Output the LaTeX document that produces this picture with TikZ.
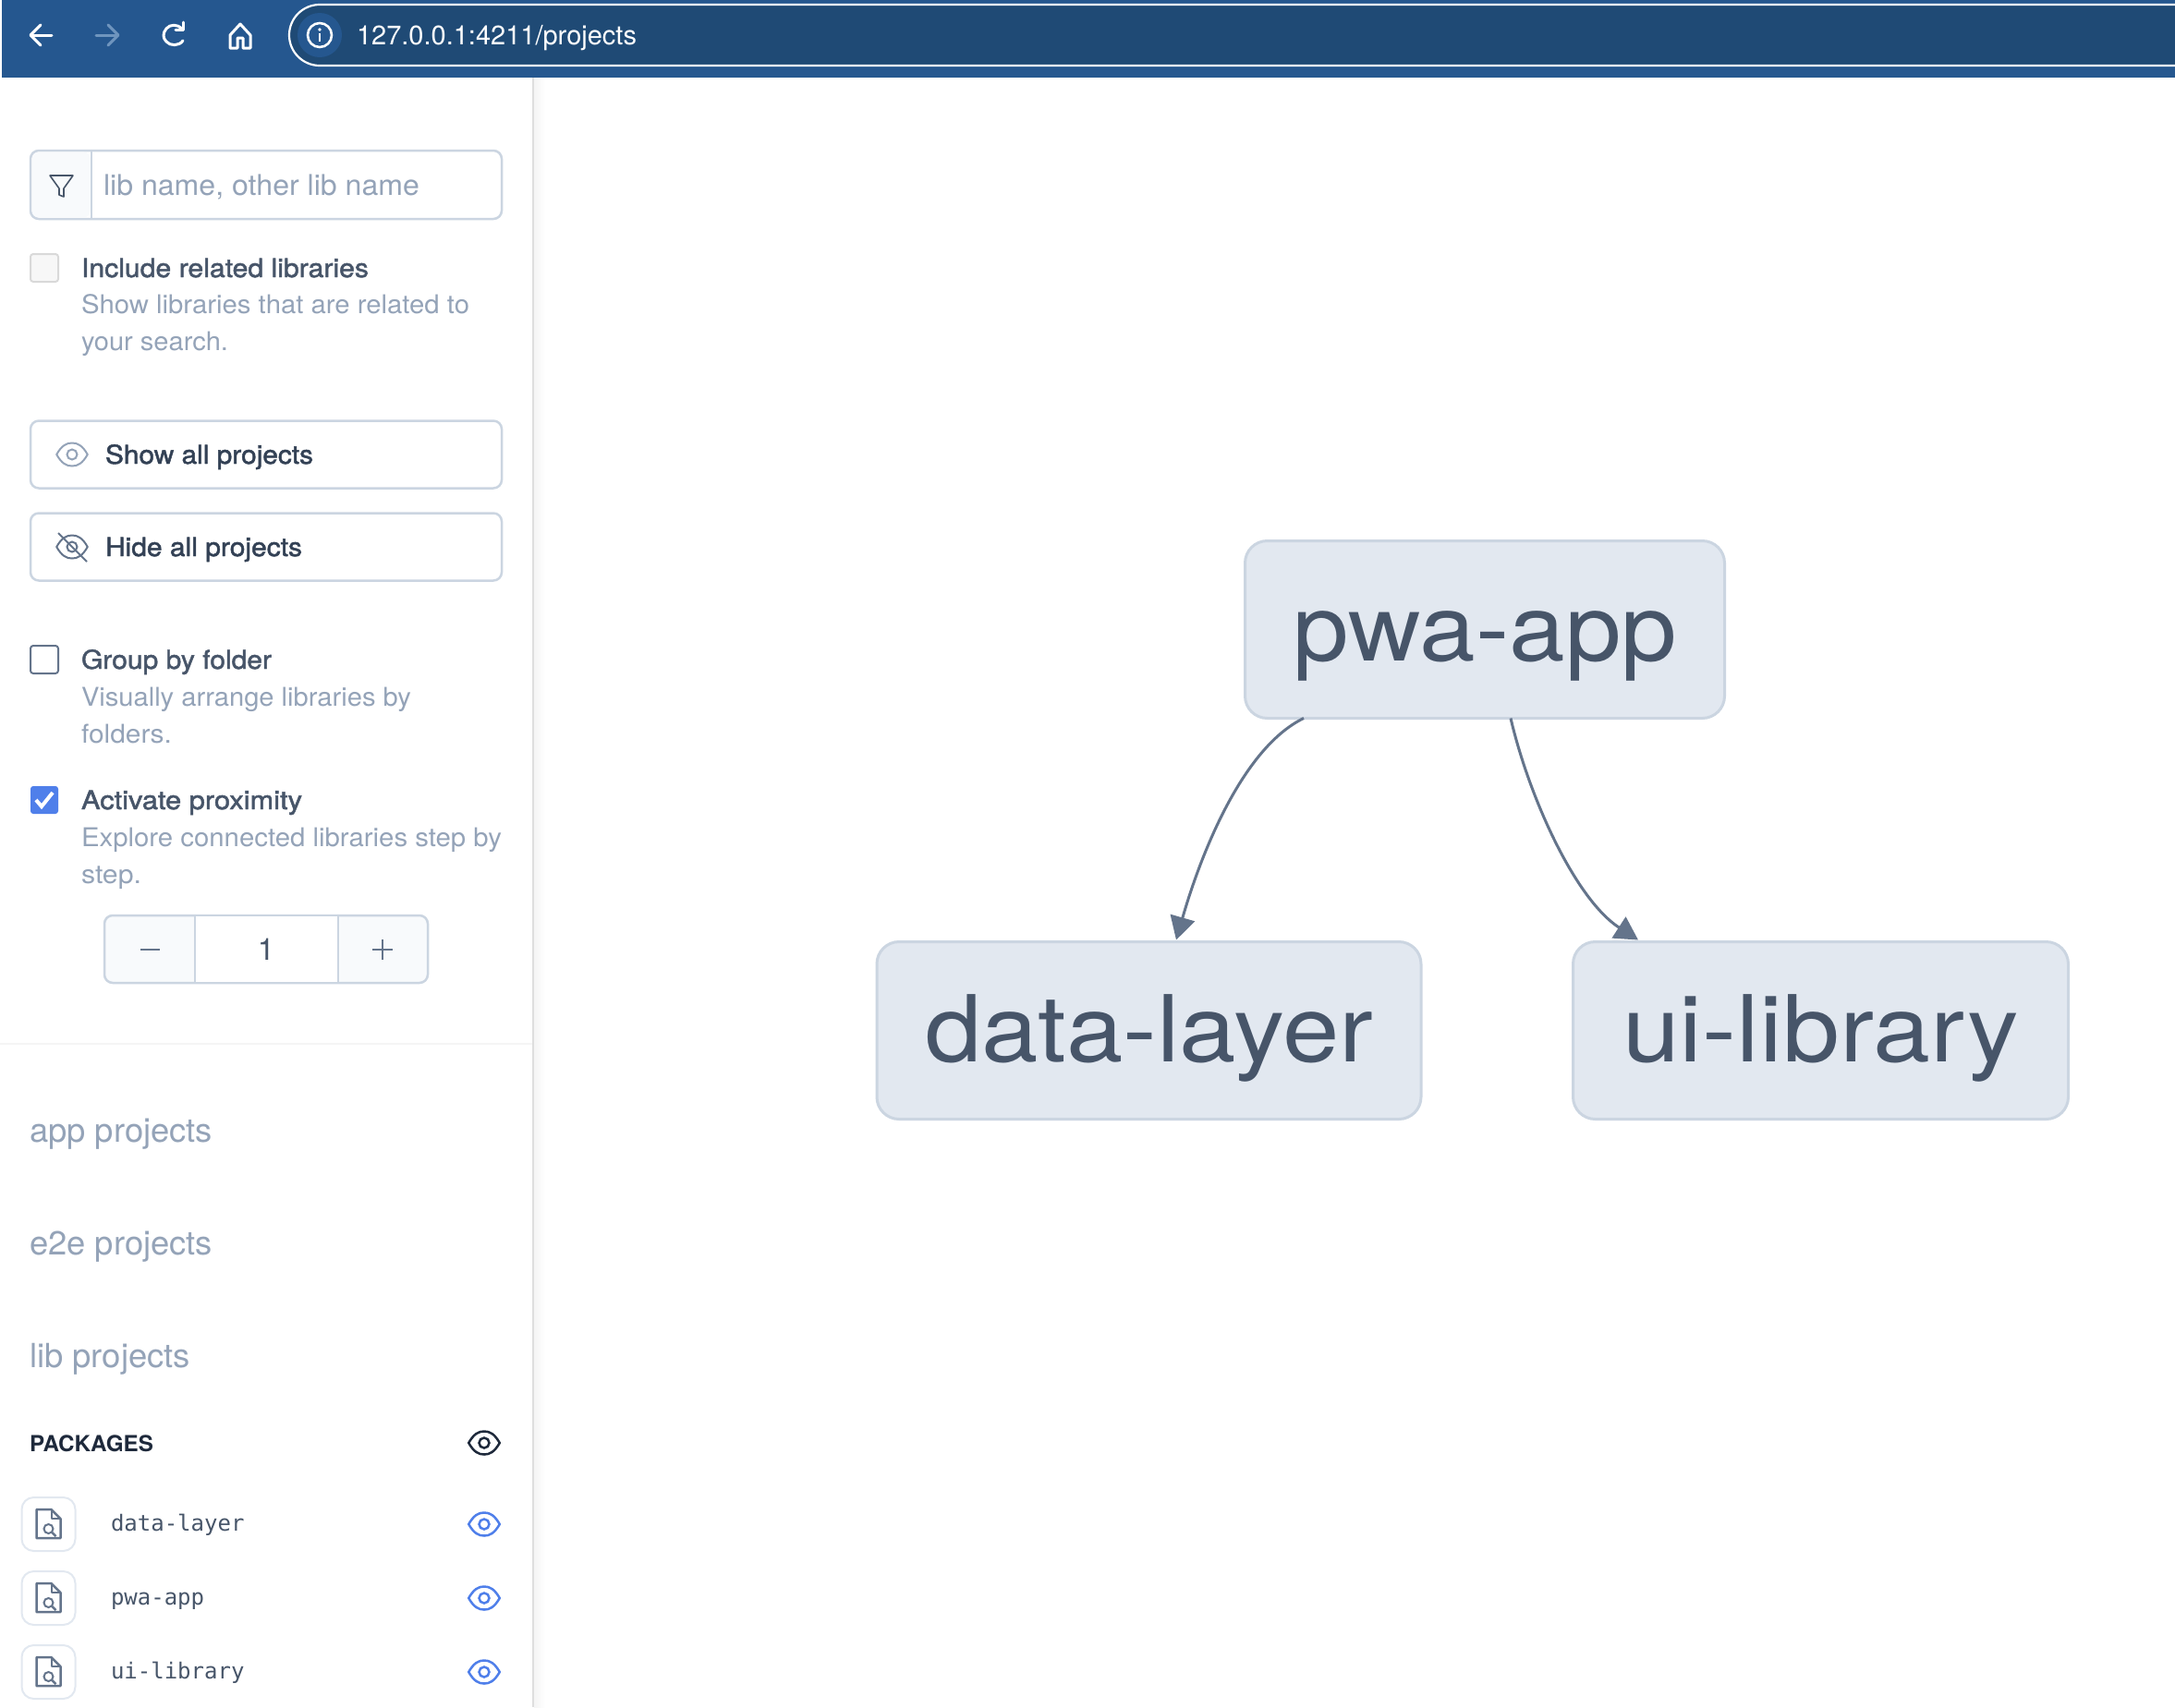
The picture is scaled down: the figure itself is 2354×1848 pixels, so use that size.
\documentclass[tikz,border=0pt]{standalone}
\usepackage{fontspec}
\usepackage{graphicx}
\usetikzlibrary{arrows.meta}
\setmainfont{TeX Gyre Heros}
\newfontfamily\medf[FakeBold=1.6]{TeX Gyre Heros}
\setmonofont{DejaVu Sans Mono}
\definecolor{barblue}{HTML}{25578F}
\definecolor{urlblue}{HTML}{1F4A75}
\definecolor{fwd}{HTML}{6F95BE}
\definecolor{slateA}{HTML}{334155}
\definecolor{slateB}{HTML}{475569}
\definecolor{slateC}{HTML}{64748B}
\definecolor{slateD}{HTML}{94A3B8}
\definecolor{slateE}{HTML}{CBD5E1}
\definecolor{slateF}{HTML}{E2E8F0}
\definecolor{slateG}{HTML}{F8FAFC}
\definecolor{ink}{HTML}{1E293B}
\definecolor{accent}{HTML}{4F7FEA}
\newcommand{\fw}[2]{\resizebox{#1pt}{\height}{#2}}
\tikzset{
  x=1pt,y=-1pt,
  txt/.style={anchor=base west,inner sep=0pt,outer sep=0pt},
  sizeA/.style={font=\fontsize{28}{30}\selectfont},
  head/.style={txt,sizeA,text=slateB},
  btn/.style={txt,sizeA,text=slateA},
  hint/.style={txt,sizeA,text=slateD},
  group/.style={txt,font=\fontsize{36}{38}\selectfont,text=slateD},
  pkg/.style={txt,font=\ttfamily\fontsize{24}{26}\selectfont,text=slateB},
  box/.style={draw=slateE,line width=2.5pt,rounded corners=9pt,fill=white,inner sep=0pt,outer sep=0pt},
  iconbox/.style={draw=slateF,line width=2pt,rounded corners=13pt,fill=white,minimum width=58pt,minimum height=58pt,inner sep=0pt},
  check/.style={rounded corners=3pt,minimum width=30pt,minimum height=30pt,inner sep=0pt,outer sep=0pt},
  gnode/.style={draw=slateE,fill=slateF,line width=3pt,rounded corners=24pt,inner sep=0pt,outer sep=0pt,
    minimum height=192pt,text=slateB,font=\fontsize{100}{104}\selectfont,text height=85pt,text depth=18pt,align=center},
  edge/.style={draw=slateC,line width=3pt,-{Triangle[length=25pt,width=27pt]}},
  eyeicon/.pic={
    \draw[line join=round] (-16.8,0) .. controls (-11,-10) and (-6,-12.5) .. (0,-12.5) .. controls (6,-12.5) and (11,-10) .. (16.8,0)
      .. controls (11,10) and (6,12.5) .. (0,12.5) .. controls (-6,12.5) and (-11,10) .. (-16.8,0) -- cycle;
    \draw (0,0) circle (5.5);
  },
  docicon/.pic={
    \draw[line width=2.5pt,line join=round] (-13,-16) -- (3,-16) -- (13,-6) -- (13,15) -- (-13,15) -- cycle;
    \draw[line width=2pt,line join=round] (3,-16) -- (3,-6) -- (13,-6);
    \draw[line width=2pt] (0,5) circle (5);
    \draw[line width=2.5pt] (4,9) -- (8,13);
  }
}
\begin{document}
\begin{tikzpicture}
\useasboundingbox (0,0) rectangle (2354,1848);
\fill[white] (0,0) rectangle (2354,1848);
% sidebar edge with faint shadow
\shade[left color=black!4,right color=white] (578,84) rectangle (590,1848);
\draw[draw=black!13,line width=2pt] (577,84) -- (577,1848);
\draw[draw=black!4,line width=2pt] (0,1130) -- (576,1130);
% browser bar
\fill[barblue] (2,0) rectangle (2354,84);
\draw[white,line width=2.2pt,fill=urlblue,rounded corners=33pt] (2380,5) -- (313,5) -- (313,71) -- (2380,71);
\fill[barblue] (346,38) circle (24);
\draw[white,line width=2.6pt] (346,38) circle (13);
\fill[white] (346,32) circle (1.8);
\draw[white,line width=2.6pt] (346,36) -- (346,45);
\begin{scope}[line width=3pt,white,line cap=round,line join=round]
  \draw (56,38) -- (34,38); \draw (44,27) -- (33,38) -- (44,49);
  \draw[fwd] (104,38) -- (127,38); \draw[fwd] (117,27) -- (128,38) -- (117,49);
  \draw (197,31) .. controls (192,26) and (184,26) .. (180,31) .. controls (176,36) and (176,41) .. (180,45) .. controls (184,50) and (194,50) .. (198,44);
  \draw (198,24) -- (198,32) -- (190,32);
  \draw (260,26) -- (249,38) -- (249,52) -- (257,52) -- (257,41) -- (263,41) -- (263,52) -- (271,52) -- (271,38) -- cycle;
\end{scope}
\node[txt,text=white,font=\fontsize{29}{31}\selectfont] (url) at (386,48) {\fw{303}{127.0.0.1:4211/projects}};
% filter
\node[box,minimum width=510pt,minimum height=74pt] (filter) at (288,200) {};
\fill[slateG,rounded corners=8pt] (34.5,164.5) rectangle (98,235.5);
\draw[slateE,line width=2pt] (99,164) -- (99,236);
\draw[slateB,line width=1.6pt,line join=round] (54,190) -- (79,190) -- (69,204) -- (69,213) -- (64,211) -- (64,204) -- cycle;
\node[txt,text=slateD,font=\fontsize{31}{33}\selectfont] (search) at (112,211) {\fw{342}{lib name, other lib name}};
% include related
\node[check,draw=black!15,fill=black!3,line width=2pt] (cbinc) at (48,290) {};
\node[head] (inc) at (88,300) {\fw{311}{\medf Include related libraries}};
\node[hint] (inc1) at (88,339.5) {\fw{420}{Show libraries that are related to}};
\node[hint] (inc2) at (88,379.5) {\fw{159}{your search.}};
% buttons
\node[box,minimum width=510pt,minimum height=73pt] (showb) at (288,492) {};
\pic[color=slateD,line width=2pt] (eyeshow) at (78,492) {eyeicon};
\node[btn] (showt) at (114,502) {\fw{225}{\medf Show all projects}};
\node[box,minimum width=510pt,minimum height=73pt] (hideb) at (288,592) {};
\pic[color=slateC,line width=2pt] (eyehide) at (78,592) {eyeicon};
\draw[slateC,line width=2pt] (63,577) -- (94,608);
\node[btn] (hidet) at (114,602) {\fw{213}{\medf Hide all projects}};
% group by folder
\node[check,draw=slateC,fill=white,line width=2pt] (cbgrp) at (48,714) {};
\node[head] (grp) at (88,724) {\fw{206}{\medf Group by folder}};
\node[hint] (grp1) at (88,764) {\fw{357}{Visually arrange libraries by}};
\node[hint] (grp2) at (88,804) {\fw{98}{folders.}};
% proximity
\node[check,fill=accent] (cbpro) at (48,866) {};
\draw[white,line width=4pt] (39,866) -- (45,873) -- (57,858);
\node[head] (pro) at (88,876) {\fw{239}{\medf Activate proximity}};
\node[hint] (pro1) at (88,916) {\fw{455}{Explore connected libraries step by}};
\node[hint] (pro2) at (88,956) {\fw{65}{step.}};
% stepper
\node[box,fill=slateG,minimum width=350pt,minimum height=73pt] (stepper) at (288,1027.5) {};
\fill[white] (211,992) rectangle (366,1063);
\draw[slateE,line width=2pt] (211,991) -- (211,1064);
\draw[slateE,line width=2pt] (366,991) -- (366,1064);
\draw[slateC,line width=2pt] (152,1028) -- (173,1028);
\draw[slateC,line width=2pt] (403,1028) -- (425,1028);
\draw[slateC,line width=2pt] (414,1017) -- (414,1039);
\node[txt,anchor=base,text=slateB,font=\fontsize{33}{35}\selectfont] (stepval) at (288,1039) {1};
% groups
\node[group] (gapp) at (32,1236) {\fw{198}{app projects}};
\node[group] (ge2e) at (32,1358) {\fw{198}{e2e projects}};
\node[group] (glib) at (32,1480) {\fw{174}{lib projects}};
\node[txt,text=ink,font=\bfseries\fontsize{24}{26}\selectfont] (pkgs) at (32,1571) {\fw{134}{PACKAGES}};
\pic[color=ink,line width=2.5pt] (eyeall) at (524,1562) {eyeicon};
% packages
\node[iconbox] (boxa) at (52.5,1650) {};
\pic[color=slateC] (doca) at (52.5,1650) {docicon};
\node[pkg] (pkga) at (120,1657) {data-layer};
\pic[color=accent,line width=2.5pt] (eyea) at (524,1650) {eyeicon};
\node[iconbox] (boxb) at (52.5,1730) {};
\pic[color=slateC] (docb) at (52.5,1730) {docicon};
\node[pkg] (pkgb) at (120,1737) {pwa-app};
\pic[color=accent,line width=2.5pt] (eyeb) at (524,1730) {eyeicon};
\node[iconbox] (boxc) at (52.5,1810) {};
\pic[color=slateC] (docc) at (52.5,1810) {docicon};
\node[pkg] (pkgc) at (120,1817) {ui-library};
\pic[color=accent,line width=2.5pt] (eyec) at (524,1810) {eyeicon};
% graph
\node[gnode,minimum width=519pt] (pwa) at (1607,681.5) {\fw{416}{pwa-app}};
\node[gnode,minimum width=589pt] (data) at (1243.5,1115.5) {\fw{485}{data-layer}};
\node[gnode,minimum width=536pt] (ui) at (1970.5,1115.5) {\fw{429}{ui-library}};
\draw[edge] ([xshift=-196pt]pwa.south) .. controls ([xshift=-262pt,yshift=-32pt]pwa.south) and ([xshift=-307pt,yshift=-146pt]pwa.south) .. ([xshift=29.5pt,yshift=2pt]data.north);
\draw[edge] ([xshift=28pt]pwa.south) .. controls ([xshift=48pt,yshift=-86pt]pwa.south) and ([xshift=98pt,yshift=-196pt]pwa.south) .. ([xshift=-197.5pt,yshift=2pt]ui.north);
\end{tikzpicture}
\end{document}
